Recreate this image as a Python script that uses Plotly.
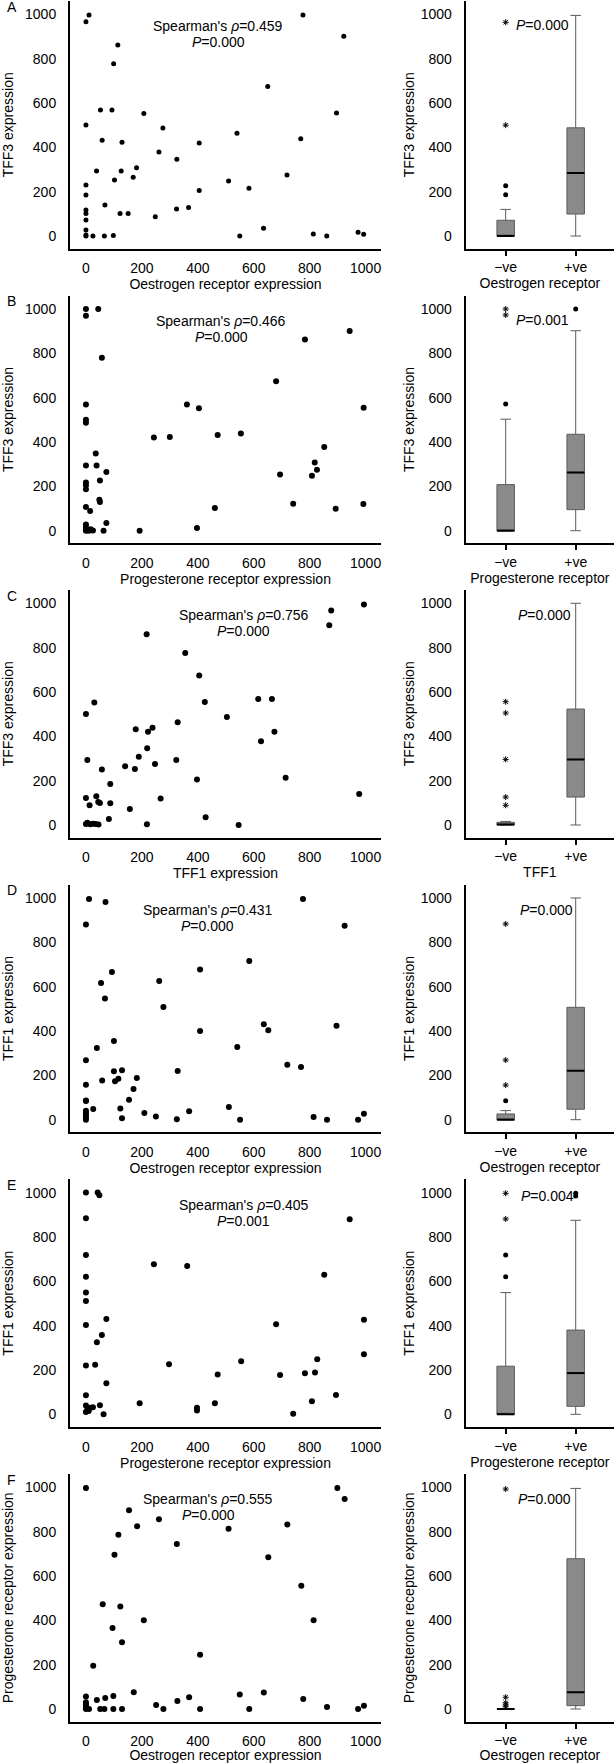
import plotly.graph_objects as go

# ---------------- data ----------------
# Panel A: ER expression vs TFF3 expression
er_a = [0, 11, 114, 99, 776, 922, 650, 896, 52, 93, 207, 0, 275, 58, 129, 405, 540, 768, 261, 325,
        181, 38, 126, 169, 102, 510, 719, 583, 405, 0, 0, 68, 0, 0, 0, 122, 151, 324, 367, 248,
        0, 0, 0, 25, 66, 98, 550, 635, 813, 861, 973, 993]
tff3_a = [966, 997, 862, 777, 997, 901, 674, 555, 568, 568, 552, 501, 487, 432, 423, 420, 463, 439, 379, 346,
          308, 293, 293, 265, 253, 248, 275, 215, 205, 230, 185, 140, 117, 102, 72, 102, 101, 122, 128, 87,
          27, 5, 0, 0, 0, 2, 0, 35, 9, 0, 17, 8]
# Panel B: PR expression vs TFF3 expression
pr_b = [0, 0, 44, 57, 0, 0, 0, 0, 35, 38, 73, 50, 0, 0, 0, 0, 15, 48, 50, 73, 0, 0, 0, 0, 17,
        25, 63, 192, 243, 300, 361, 404, 471, 554, 397, 461, 680, 783, 943, 993, 852, 818, 826, 808, 694,
        741, 893, 992, 5, 10]
tff3_b = [1000, 970, 1000, 780, 569, 501, 487, 294, 348, 294, 265, 227, 217, 205, 187, 107, 89, 140, 130, 35,
          28, 15, 5, 0, 6, 1, 0, 0, 420, 423, 569, 552, 432, 439, 12, 102, 674, 862, 901, 555,
          378, 308, 275, 248, 253, 122, 99, 120, 3, 0]
# Panel C: TFF1 expression vs TFF3 expression
tff1_c = [994, 877, 870, 217, 355, 405, 0, 30, 425, 504, 328, 616, 665, 674, 626, 178, 222, 238, 219, 189,
          323, 140, 175, 247, 5, 57, 87, 714, 397, 267, 0, 37, 44, 50, 13, 87, 157, 82, 428, 218,
          546, 977, 0, 5, 15, 25, 35, 45]
tff3_c = [995, 967, 901, 860, 776, 674, 501, 552, 555, 487, 463, 568, 568, 421, 378, 432, 421, 439, 346, 308,
          293, 265, 253, 275, 293, 250, 185, 213, 205, 119, 122, 130, 104, 99, 89, 98, 72, 27, 35, 3,
          0, 140, 5, 10, 3, 6, 5, 2]
# Panel D: ER expression vs TFF1 expression
er_d = [0, 11, 70, 776, 925, 93, 54, 68, 262, 277, 408, 584, 636, 652, 896, 408, 541, 720, 769, 0,
        39, 100, 100, 129, 104, 116, 182, 58, 170, 328, 0, 0, 0, 154, 26, 123, 0, 0, 0, 0,
        0, 129, 209, 250, 325, 369, 511, 551, 814, 862, 973, 994]
tff1_d = [880, 995, 982, 995, 875, 666, 617, 547, 626, 508, 677, 716, 430, 404, 424, 400, 328, 248, 238, 268,
          323, 355, 218, 223, 174, 185, 188, 177, 138, 220, 158, 87, 84, 90, 48, 50, 40, 30, 20, 10,
          0, 6, 30, 15, 2, 38, 57, 0, 12, 0, 0, 27]
# Panel E: PR expression vs TFF1 expression
pr_e = [0, 42, 48, 0, 0, 0, 0, 0, 0, 73, 57, 39, 0, 33, 73, 0, 50, 63, 0, 0,
        5, 10, 15, 25, 192, 243, 362, 297, 397, 397, 461, 471, 555, 680, 694, 741, 783, 819, 827, 808,
        852, 894, 943, 994, 994]
tff1_e = [1000, 1000, 988, 884, 719, 620, 549, 511, 403, 430, 358, 325, 220, 223, 140, 86, 41, 0, 40, 10,
          20, 15, 30, 32, 50, 677, 669, 226, 29, 17, 50, 179, 239, 406, 177, 3, 185, 189, 248, 59,
          630, 87, 880, 426, 271]
# Panel F: ER expression vs PR expression
er_f = [0, 899, 925, 154, 261, 183, 116, 102, 325, 510, 720, 652, 770, 60, 123, 95, 207, 129, 26, 408,
        814, 0, 0, 0, 0, 39, 69, 98, 171, 51, 66, 98, 129, 11, 251, 277, 327, 369, 408, 550,
        584, 636, 777, 862, 973, 994, 0]
pr_f = [997, 997, 947, 896, 856, 824, 786, 696, 744, 813, 832, 684, 556, 472, 462, 365, 400, 301, 195, 245,
        400, 56, 30, 20, 10, 41, 50, 59, 75, 0, 0, 0, 0, 0, 18, 0, 36, 53, 0, 65,
        0, 74, 45, 9, 0, 15, 0]

panel_letters = ["A", "B", "C", "D", "E", "F"]
scatter_x_titles = ["Oestrogen receptor expression", "Progesterone receptor expression", "TFF1 expression",
                    "Oestrogen receptor expression", "Progesterone receptor expression",
                    "Oestrogen receptor expression"]
y_titles = ["TFF3 expression", "TFF3 expression", "TFF3 expression", "TFF1 expression", "TFF1 expression",
            "Progesterone receptor expression"]
box_x_titles = ["Oestrogen receptor", "Progesterone receptor", "TFF1", "Oestrogen receptor",
                "Progesterone receptor", "Oestrogen receptor"]
rho_values = ["0.459", "0.466", "0.756", "0.431", "0.405", "0.555"]
p_scatter = ["0.000", "0.000", "0.000", "0.000", "0.001", "0.000"]
p_box = ["0.000", "0.001", "0.000", "0.000", "0.004", "0.000"]

groups = ["\u2212ve", "+ve"]
# box statistics: [negative group, positive group]
box_q1 = [[0, 99], [0, 95], [0, 126], [0, 47], [0, 36], [0, 15]]
box_median = [[0, 284], [0, 262], [2, 296], [0, 221], [0, 186], [0, 75]]
box_q3 = [[71, 488], [208, 435], [12, 523], [26, 507], [217, 380], [0, 678]]
box_low = [[0, 0], [0, 0], [0, 0], [0, 0], [0, 0], [0, 0]]
box_up = [[120, 995], [503, 902], [16, 1000], [41, 1000], [549, 875], [0, 995]]
# outliers: (group index, value)
out_dots = [[(0, 227), (0, 186)], [(0, 571), (1, 1000)], [], [(0, 86)], [(0, 719), (0, 620), (1, 985), (1, 997)], []]
out_stars = [[(0, 500), (0, 964)], [(0, 1000), (0, 973)], [(0, 556), (0, 505), (0, 296), (0, 126), (0, 89)],
             [(0, 156), (0, 269), (0, 883)], [(0, 881), (0, 997)], [(0, 992), (0, 53), (0, 28), (0, 18), (0, 10)]]

scatter_data = [(er_a, tff3_a), (pr_b, tff3_b), (tff1_c, tff3_c), (er_d, tff1_d), (pr_e, tff1_e), (er_f, pr_f)]

# ---------------- layout geometry ----------------
W, H = 614, 1763
FONT = "Liberation Sans, Arial, Helvetica, sans-serif"
zero_px = [236, 530.7, 825, 1119.7, 1414.3, 1709]
px_per_unit = 0.2217
y_rng = [-57, 1060]
x_rng = [-57, 1055]
box_rng = [-0.571, 1.547]
sc_dom = [70 / W, 381 / W]
bx_dom = [465.7 / W, 1.0]
text_x_sp = [473, 484, 564, 436, 565, 438]
p_box_pos = [(0.52, 952), (0.53, 949), (0.55, 947), (0.586, 947), (0.594, 985), (0.55, 949)]
marker_sizes = [5, 6, 6, 6, 6, 6]

fig = go.Figure()
layout = dict(template="none", width=W, height=H, margin=dict(l=0, r=0, t=0, b=0, pad=0), showlegend=False,
              paper_bgcolor="white", plot_bgcolor="white",
              font=dict(family=FONT, size=14, color="black"))
annotations = []

for i in range(6):
    ns, nb = 2 * i + 1, 2 * i + 2
    xs, ys = ("x" if ns == 1 else f"x{ns}"), ("y" if ns == 1 else f"y{ns}")
    xb, yb = f"x{nb}", f"y{nb}"
    top = zero_px[i] - y_rng[1] * px_per_unit
    bot = zero_px[i] - y_rng[0] * px_per_unit
    ydom = [1 - bot / H, 1 - top / H]

    xv, yv = scatter_data[i]
    fig.add_trace(go.Scatter(x=xv, y=yv, mode="markers", xaxis=xs, yaxis=ys,
                             marker=dict(color="black", size=marker_sizes[i])))

    common_y = dict(range=y_rng, domain=ydom, showline=True, linewidth=2, linecolor="black",
                    showgrid=False, zeroline=False, tickvals=[0, 200, 400, 600, 800, 1000],
                    ticks="outside", ticklen=9, tickcolor="rgba(0,0,0,0)", automargin=False,
                    tickfont=dict(size=14))
    layout[("xaxis" if ns == 1 else f"xaxis{ns}")] = dict(
        range=x_rng, domain=sc_dom, anchor=ys, showline=True, linewidth=2, linecolor="black",
        showgrid=False, zeroline=False, tickvals=[0, 200, 400, 600, 800, 1000],
        ticks="outside", ticklen=6, tickcolor="rgba(0,0,0,0)", automargin=False,
        tickfont=dict(size=14),
        title=dict(text=scatter_x_titles[i], font=dict(size=14), standoff=4))
    layout[("yaxis" if ns == 1 else f"yaxis{ns}")] = dict(
        anchor=xs, title=dict(text=y_titles[i], font=dict(size=14), standoff=11), **common_y)

    # box plot
    fig.add_trace(go.Box(x=[0, 1], q1=box_q1[i], median=box_median[i], q3=box_q3[i],
                         lowerfence=box_low[i], upperfence=box_up[i], width=0.25, whiskerwidth=0.6,
                         fillcolor="#8a8a8a", line=dict(color="#5c5c5c", width=1),
                         boxpoints=False, xaxis=xb, yaxis=yb))
    mx, my = [], []
    for g in range(2):
        mx += [g - 0.125, g + 0.125, None]
        my += [box_median[i][g], box_median[i][g], None]
    fig.add_trace(go.Scatter(x=mx, y=my, mode="lines", line=dict(color="black", width=2),
                             xaxis=xb, yaxis=yb))
    if out_dots[i]:
        fig.add_trace(go.Scatter(x=[g for g, v in out_dots[i]], y=[v for g, v in out_dots[i]],
                                 mode="markers", marker=dict(color="black", size=5),
                                 xaxis=xb, yaxis=yb))
    if out_stars[i]:
        fig.add_trace(go.Scatter(x=[g for g, v in out_stars[i]], y=[v for g, v in out_stars[i]],
                                 mode="markers",
                                 marker=dict(symbol="asterisk-open", color="black", size=5,
                                             line=dict(color="black", width=1)),
                                 xaxis=xb, yaxis=yb))
    layout[f"xaxis{nb}"] = dict(
        range=box_rng, domain=bx_dom, anchor=yb, showline=True, linewidth=2, linecolor="black",
        showgrid=False, zeroline=False, tickvals=[0, 1], ticktext=groups, ticks="outside",
        ticklen=5, tickwidth=1.5, tickcolor="black", tickfont=dict(size=14), automargin=False,
        title=dict(text=box_x_titles[i], font=dict(size=14), standoff=4))
    layout[f"yaxis{nb}"] = dict(
        anchor=xb, title=dict(text=y_titles[i], font=dict(size=14), standoff=3), **common_y)

    # annotations
    annotations.append(dict(x=text_x_sp[i], y=945, xref=xs, yref=ys, showarrow=False,
                            text=f"Spearman's <i>\u03c1</i>={rho_values[i]}", font=dict(size=14)))
    annotations.append(dict(x=text_x_sp[i], y=873, xref=xs, yref=ys, showarrow=False,
                            text=f"<i>P</i>={p_scatter[i]}", font=dict(size=14)))
    annotations.append(dict(x=p_box_pos[i][0], y=p_box_pos[i][1], xref=xb, yref=yb, showarrow=False,
                            text=f"<i>P</i>={p_box[i]}", font=dict(size=14)))
    annotations.append(dict(x=5 / W, y=1035, xref="paper", yref=ys, showarrow=False,
                            text=panel_letters[i], font=dict(size=14)))

layout["annotations"] = annotations
fig.update_layout(**layout)
fig.write_html("out.html", config={"displayModeBar": False},
               post_script="document.body.style.margin='0';document.body.style.padding='0';")
